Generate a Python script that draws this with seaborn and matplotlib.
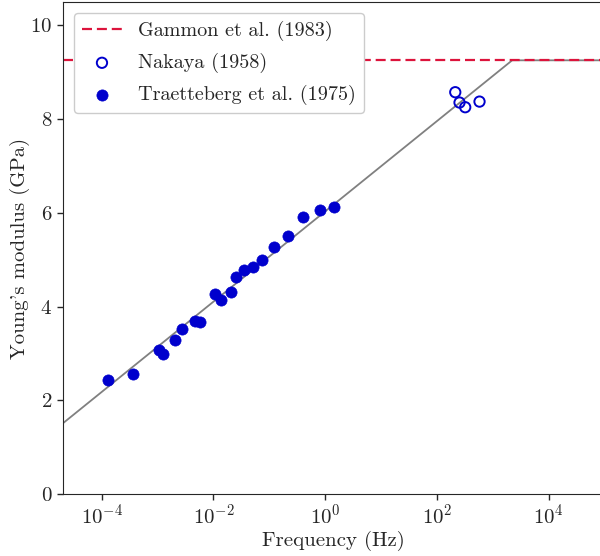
import numpy as np
import pandas as pd
import matplotlib
matplotlib.use("Agg")
import matplotlib.pyplot as plt
import seaborn as sns

# ---- data ----
traet_freq = [1.28e-4, 3.59e-4, 1.06e-3, 1.27e-3, 2.03e-3, 2.74e-3, 4.75e-3, 5.77e-3,
              1.07e-2, 1.35e-2, 2.05e-2, 2.51e-2, 3.54e-2, 5.13e-2, 7.35e-2, 0.123,
              0.220, 0.407, 0.791, 1.45]
traet_E = [2.43, 2.56, 3.07, 2.98, 3.29, 3.53, 3.70, 3.68, 4.27, 4.14, 4.31, 4.63,
           4.78, 4.84, 5.00, 5.28, 5.50, 5.92, 6.07, 6.12]
nakaya_freq = [213, 254, 321, 579]
nakaya_E = [8.57, 8.35, 8.25, 8.37]
gammon_E = 9.25
fit_intercept = 6.03   # GPa at 1 Hz
fit_slope = 0.962      # GPa per decade
x_limits = [2e-5, 1e5]
y_limits = [0, 10.5]
y_ticks = [0, 2, 4, 6, 8, 10]
x_ticks = [1e-4, 1e-2, 1e0, 1e2, 1e4]

sns.set_style("ticks")
plt.rcParams.update({
    "font.family": ["cmr10", "DejaVu Serif"],
    "mathtext.fontset": "cm",
    "axes.formatter.use_mathtext": True,
    "font.size": 15,
    "axes.unicode_minus": True,
})

fig = plt.figure(figsize=(6.0, 5.56), dpi=100)
ax = fig.add_axes([0.1045, 0.111, 0.903, 0.886])

# model line: linear in log f, capped at Gammon value
f_cross = 10 ** ((gammon_E - fit_intercept) / fit_slope)
line_f = np.array([x_limits[0], f_cross, x_limits[1]])
line_E = np.minimum(fit_intercept + fit_slope * np.log10(line_f), gammon_E)
sns.lineplot(x=line_f, y=line_E, ax=ax, color="gray", lw=1.3, zorder=1)

ax.axhline(gammon_E, color="crimson", ls=(0, (4.5, 2.2)), lw=1.6, zorder=2,
           label="Gammon et al. (1983)")

df_n = pd.DataFrame({"f": nakaya_freq, "E": nakaya_E})
df_t = pd.DataFrame({"f": traet_freq, "E": traet_E})
sns.scatterplot(data=df_n, x="f", y="E", ax=ax, marker="o", s=55,
                facecolors="none", edgecolor="mediumblue", linewidth=1.4,
                label="Nakaya (1958)", zorder=3)
sns.scatterplot(data=df_t, x="f", y="E", ax=ax, marker="o", s=65,
                color="mediumblue", edgecolor="mediumblue", linewidth=0.5,
                label="Traetteberg et al. (1975)", zorder=3)

ax.set_xscale("log")
ax.set_xlim(*x_limits)
ax.set_ylim(*y_limits)
ax.set_xticks(x_ticks)
ax.set_yticks(y_ticks)
ax.minorticks_off()
ax.tick_params(labelsize=15, length=4, width=1)
ax.tick_params(axis="x", pad=2.5)
ax.set_xlabel("Frequency (Hz)", fontsize=15, labelpad=2)
ax.set_ylabel("Young's modulus (GPa)", fontsize=15, labelpad=0)

leg = ax.legend(loc="upper left", frameon=True, fontsize=14.5, framealpha=1.0,
                borderaxespad=0.55, handlelength=2.0, labelspacing=0.6)
leg.get_frame().set_edgecolor("#cccccc")

fig.savefig("out.png", dpi=100)
